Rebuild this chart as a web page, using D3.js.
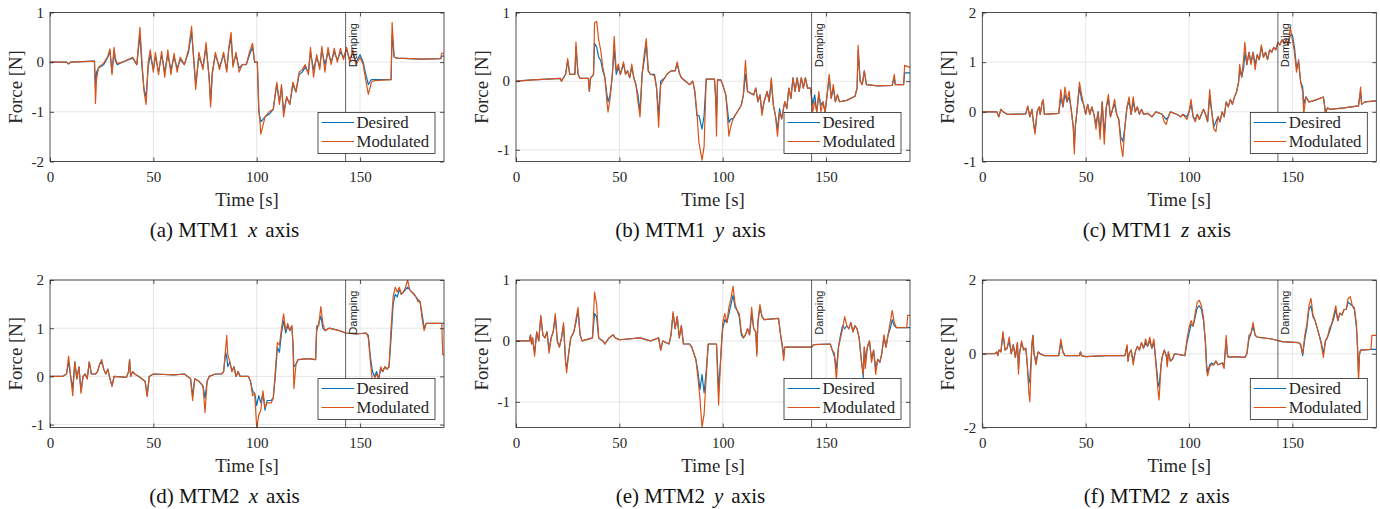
<!DOCTYPE html>
<html lang="en">
  <head>
    <meta charset="utf-8">
    <title>Desired vs modulated force</title>
    <script type="text/javascript" src="https://d3js.org/d3.v7.min.js"></script>
    <style type="text/css">
    body { margin: 0; background: #fff; }
    .tick text { font-family: "Liberation Serif", "Times New Roman", serif; font-size: 15px; fill: #262626; }
    .tick line { stroke: #262626; stroke-width: 0.8px; }
    .domain { display: none; }
    .grid line { stroke: #dfdfdf; stroke-width: 0.8px; }
    .ylabel, .xlabel { font-family: "Liberation Serif", serif; font-size: 18.8px; fill: #262626; }
    .caption { font-family: "Liberation Serif", serif; font-size: 21px; fill: #111; }
    .legend text { font-family: "Liberation Serif", serif; font-size: 16.8px; fill: #262626; }
    .damp { font-family: "Liberation Sans", Arial, sans-serif; font-size: 11px; fill: #262626; }
    </style>
  </head>
  <body>
    <svg width="1380" height="509" id="chart"></svg>

    <script type="text/javascript">

    // ---- data (time in s, force in N) ----
    const timeA = [0, 8, 9, 10, 21.5, 22, 22.5, 23.5, 26, 28,
      29, 30, 31, 31.5, 32.5, 35, 40, 42, 43.5, 44.5,
      45.5, 46.5, 47.5, 48.5, 50, 51, 52.5, 54, 55.5, 57,
      58.5, 60, 61.5, 63, 65, 67, 68.5, 69.5, 70.5, 72,
      74, 75.5, 77, 77.7, 78.5, 80, 82, 84, 85.5, 86.5,
      87.6, 88.5, 90, 91.5, 93, 95, 96.5, 98, 99, 100.3,
      101, 102, 104, 106, 108, 109.7, 111, 112, 113, 114.5,
      116, 117.5, 119, 120.5, 122, 123.5, 125, 126, 127.5, 129,
      130.5, 131.5, 133, 134.5, 136, 137.5, 139, 140.5, 142, 143.5,
      145, 146.5, 148, 150, 151.5, 152.5, 154, 155.5, 157, 165,
      165.5, 166.5, 168, 180, 189, 189.5, 190.6];
    const desiredA = [0, 0, -0.03, 0, 0.02, -0.5, -0.2, -0.12, -0.05, 0.1,
      0.22, -0.2, 0.25, 0.05, -0.05, 0, 0.08, -0.05, 0.55, -0.1,
      -0.55, -0.7, -0.1, 0.15, -0.15, 0.12, -0.2, 0.15, -0.2, 0.15,
      -0.15, 0.1, -0.12, 0.05, -0.05, 0.2, 0.6, 0.1, -0.45, 0.1,
      -0.1, 0.3, -0.3, -0.8, -0.2, 0.15, -0.1, 0.15, -0.15, 0.25,
      0.5, -0.05, 0.15, -0.12, -0.05, -0.05, 0.15, 0.3, 0, 0,
      -1.0, -1.2, -1.1, -1.05, -0.95, -0.45, -0.8, -0.5, -1.0, -0.7,
      -0.85, -0.45, -0.6, -0.25, -0.2, -0.1, -0.2, 0.2, -0.15, 0.1,
      -0.1, 0.25, -0.05, 0.2, 0, 0.2, 0.05, 0.2, 0.1, 0.25,
      0.05, 0.2, 0, 0.15, 0, -0.2, -0.45, -0.35, -0.35, -0.35,
      0.55, 0.1, 0.08, 0.06, 0.07, 0.12, 0.12];
    const modulatedA = [0, 0, -0.04, 0, 0.02, -0.83, -0.35, -0.1, -0.02, 0.12,
      0.27, -0.25, 0.3, 0.1, -0.03, 0, 0.1, -0.05, 0.7, 0,
      -0.6, -0.85, 0, 0.25, -0.2, 0.2, -0.25, 0.22, -0.3, 0.25,
      -0.25, 0.18, -0.2, 0.1, -0.05, 0.25, 0.72, 0.05, -0.55, 0.2,
      -0.15, 0.4, -0.35, -0.9, -0.25, 0.2, -0.15, 0.2, -0.2, 0.3,
      0.6, -0.1, 0.2, -0.2, -0.05, -0.04, 0.2, 0.38, 0, 0,
      -0.9, -1.45, -1.1, -1.0, -0.95, -0.4, -0.85, -0.45, -1.1, -0.7,
      -0.85, -0.4, -0.6, -0.2, -0.15, -0.05, -0.25, 0.3, -0.3, 0.15,
      -0.15, 0.32, -0.2, 0.3, -0.05, 0.28, 0, 0.28, 0.05, 0.3,
      0, 0.25, -0.05, 0.1, -0.05, -0.3, -0.65, -0.4, -0.37, -0.35,
      0.8, 0.1, 0.08, 0.06, 0.07, 0.18, 0.18];

    const timeB = [0, 8, 15, 21.5, 22, 24, 25, 26, 28.5, 29,
      30, 31, 35, 35.5, 36, 37.5, 38, 39, 40, 41,
      42, 43, 44, 44.5, 45.5, 46.5, 47.5, 48.5, 49.5, 50.5,
      52, 53, 54, 55, 56, 57, 58, 59, 60, 61,
      62, 63, 64, 65, 67, 68, 69, 70, 72, 73,
      75, 77, 78, 79, 80, 82, 84, 85.5, 86.5, 87.5,
      88.5, 90, 91, 92, 96, 96.5, 97, 97.5, 99, 100,
      101.5, 103, 104, 105, 107, 109, 110, 111, 112, 115,
      116, 117, 118, 119, 120, 121.5, 122.5, 123.5, 124.5, 125.5,
      126.5, 127.5, 128.5, 130, 131, 132, 133, 134, 135, 136,
      137, 138, 139, 140, 141, 142.5, 143.5, 144.5, 145.5, 146.5,
      147.5, 148.5, 149.5, 150.5, 151.5, 152.5, 153.5, 154.5, 155.5, 156.5,
      160, 164, 165, 165.5, 166.5, 167.5, 168.5, 169.5, 175, 182,
      183, 183.5, 187.5, 188, 190.6];
    const desiredB = [0, 0.02, 0.03, 0.04, 0, 0.1, 0.3, 0.1, 0.1, 0.5,
      0.1, 0.04, 0.04, -0.15, 0.04, 0.1, 0.55, 0.5, 0.35, 0.3,
      0.15, 0.05, -0.2, -0.3, -0.2, 0.05, 0.45, 0.1, 0.2, 0.1,
      0.25, 0.1, 0.15, 0.05, 0.2, 0.05, -0.05, -0.2, -0.45, 0.1,
      0.3, 0.55, 0.15, 0.1, 0.1, -0.1, -0.5, 0, 0.05, 0.1,
      0.15, 0.15, 0.25, 0.12, 0.05, 0, -0.05, 0, -0.15, -0.5,
      -0.5, -0.7, -0.5, 0.03, 0.03, -0.2, -0.5, 0.02, 0.02, -0.05,
      -0.2, -0.6, -0.55, -0.55, -0.45, -0.35, -0.2, 0.1, -0.15, -0.2,
      -0.1, -0.3, -0.2, -0.45, -0.3, -0.15, -0.3, 0, -0.35, -0.5,
      -0.7, -0.4, -0.55, -0.3, -0.4, -0.1, -0.25, 0.05, -0.15, 0.05,
      -0.15, 0.05, -0.1, 0.05, -0.1, -0.1, -0.35, -0.2, -0.45, -0.2,
      -0.35, -0.3, -0.45, -0.2, 0.05, -0.25, -0.1, -0.3, -0.2, -0.3,
      -0.28, -0.22, -0.1, 0.45, 0, -0.05, 0.15, -0.05, -0.07, -0.06,
      0.05, -0.05, -0.05, 0.12, 0.12];
    const modulatedB = [0, 0.02, 0.03, 0.04, 0, 0.1, 0.33, 0.1, 0.1, 0.57,
      0.1, 0.04, 0.04, -0.15, 0.04, 0.1, 0.85, 0.87, 0.6, 0.45,
      0.2, 0.05, -0.3, -0.45, -0.25, 0.05, 0.65, 0.15, 0.25, 0.1,
      0.28, 0.1, 0.15, 0.05, 0.25, 0.05, -0.05, -0.3, -0.52, 0.1,
      0.38, 0.62, 0.15, 0.1, 0.08, -0.1, -0.67, -0.05, 0.05, 0.1,
      0.15, 0.15, 0.28, 0.12, 0.05, 0, -0.05, 0, -0.15, -0.45,
      -0.9, -1.15, -0.95, 0.03, 0.03, -0.2, -0.8, 0.02, 0.02, -0.05,
      -0.2, -0.8, -0.65, -0.55, -0.45, -0.35, -0.2, 0.3, -0.15, -0.2,
      -0.1, -0.3, -0.2, -0.5, -0.3, -0.15, -0.3, 0.05, -0.35, -0.5,
      -0.8, -0.45, -0.55, -0.3, -0.4, -0.1, -0.25, 0.05, -0.15, 0.05,
      -0.15, 0.05, -0.1, 0.05, -0.1, -0.1, -0.45, -0.3, -0.45, -0.15,
      -0.45, -0.3, -0.45, -0.2, 0.1, -0.25, -0.05, -0.3, -0.2, -0.3,
      -0.28, -0.22, -0.1, 0.52, 0, -0.05, 0.15, -0.05, -0.07, -0.06,
      0.1, -0.05, -0.05, 0.23, 0.2];

    const timeC = [0, 7, 8, 9, 10, 12, 21, 22, 23, 24,
      25, 25.5, 26.5, 27.5, 28, 29, 29.5, 30, 37, 38,
      39, 40, 41, 42, 43, 44, 44.5, 45, 46, 47,
      48, 49, 50, 51, 52, 53, 54, 55, 56, 57,
      58, 59, 60, 61, 62, 63, 64, 65, 66, 67,
      68, 69, 70, 71, 72, 73, 74, 75, 76, 77,
      78, 80, 82, 84, 87, 88, 89, 90, 91, 94,
      96, 97, 99, 100, 101, 102, 103, 104, 105, 107,
      108, 109, 110, 111, 112, 113, 114, 115, 116, 117,
      118, 119, 120, 121, 122, 123, 124, 124.5, 125.5, 126.5,
      127, 128, 129, 130, 131, 132, 133, 134, 135, 136,
      137, 138, 139, 140, 141, 142, 143, 144, 145, 146,
      147, 148, 149, 150, 151, 152, 153, 154, 155, 155.5,
      156.5, 158, 160, 162, 165, 165.5, 166, 167, 168, 175,
      182, 183, 183.5, 185, 190.6];
    const desiredC = [0, 0, -0.1, 0.05, 0, -0.05, -0.04, 0.1, -0.1, 0.05,
      -0.3, -0.4, 0, 0.1, -0.05, 0.2, 0.22, -0.05, -0.03, 0.3,
      0.1, 0.35, 0.2, 0.3, 0.05, -0.3, -0.7, -0.3, 0.1, 0.5,
      0.25, 0.15, -0.05, 0.15, -0.05, 0.1, -0.05, -0.25, 0, -0.4,
      0.2, -0.45, 0.1, 0.25, -0.1, 0.05, 0.15, -0.05, -0.15, -0.5,
      -0.6, -0.3, 0.1, 0.2, -0.05, 0.2, 0, 0.1, -0.05, 0.05,
      -0.05, -0.03, -0.1, 0, -0.05, -0.1, -0.15, -0.1, 0, -0.05,
      -0.1, -0.05, -0.1, 0, 0.15, -0.1, -0.15, -0.05, -0.15, 0.05,
      -0.05, -0.2, 0.3, 0, -0.3, -0.2, -0.1, -0.2, 0, -0.1,
      0.2, 0.1, 0.25, 0.15, 0.3, 0.4, 0.6, 0.85, 0.7, 0.9,
      1.2, 0.95, 1.2, 1.0, 1.2, 0.95, 1.15, 1.05, 1.3, 1.1,
      1.2, 1.05, 1.25, 1.2, 1.3, 1.25, 1.4, 1.35, 1.45, 1.38,
      1.45, 1.35, 1.55, 1.55, 1.3, 0.9, 1.0, 0.6, 0.5, 0.15,
      0.3, 0.2, 0.22, 0.25, 0.3, 0.15, 0, 0.08, 0.05, 0.08,
      0.12, 0.4, 0.15, 0.2, 0.22];
    const modulatedC = [0, 0, -0.1, 0.05, 0, -0.05, -0.04, 0.12, -0.1, 0.05,
      -0.3, -0.45, 0, 0.1, -0.05, 0.2, 0.25, -0.05, -0.03, 0.45,
      0.1, 0.5, 0.2, 0.42, 0.05, -0.3, -0.85, -0.3, 0.1, 0.6,
      0.35, 0.15, -0.05, 0.15, -0.05, 0.1, -0.05, -0.35, 0, -0.55,
      0.2, -0.65, 0.1, 0.35, -0.1, 0.05, 0.25, -0.05, -0.15, -0.65,
      -0.9, -0.3, 0.1, 0.3, -0.05, 0.3, 0, 0.1, -0.05, 0.05,
      -0.05, -0.03, -0.1, 0, -0.05, -0.2, -0.25, -0.1, 0, -0.05,
      -0.1, -0.05, -0.15, 0, 0.25, -0.1, -0.2, -0.05, -0.15, 0.05,
      -0.05, -0.2, 0.45, 0, -0.35, -0.4, -0.1, -0.2, 0, -0.1,
      0.2, 0.1, 0.25, 0.15, 0.3, 0.4, 0.6, 0.95, 0.7, 1.1,
      1.4, 0.95, 1.2, 0.95, 1.2, 0.85, 1.15, 1.05, 1.35, 1.1,
      1.2, 1.05, 1.25, 1.2, 1.3, 1.25, 1.4, 1.35, 1.45, 1.38,
      1.45, 1.35, 1.7, 1.45, 1.2, 0.8, 1.05, 0.6, 0.4, -0.05,
      0.3, 0.2, 0.22, 0.25, 0.3, 0.15, -0.05, 0.08, 0.05, 0.08,
      0.12, 0.5, 0.15, 0.2, 0.22];

    const timeD = [0, 6, 8, 9, 10, 11, 12, 13, 14, 15,
      16, 17, 18, 19, 20, 22, 23, 24, 25, 26,
      27, 28, 29, 30, 31, 37, 38, 38.5, 39, 40,
      41, 43, 46, 47, 48, 50, 60, 65, 68, 69,
      70, 72, 74, 75, 76, 77, 80, 83, 84, 85,
      85.5, 86, 87, 88, 89, 90, 91, 92, 96, 97,
      98, 99, 100, 101, 102, 103, 104, 105, 107, 108,
      109, 110, 111, 112, 113, 114, 115, 116, 117, 117.5,
      118, 119, 120, 125, 128.5, 129, 130, 131, 132, 133,
      135, 140, 143, 148, 153, 154, 155, 156, 157, 158,
      159, 160, 161, 162, 163, 164, 165, 166, 167, 168,
      169, 170, 171, 172, 173, 174, 175, 176, 177, 178,
      179, 180, 181, 182, 189.5, 190, 190.6];
    const desiredD = [0, 0, 0.05, 0.3, 0, -0.25, 0.3, -0.05, 0.2, -0.3,
      0, 0.05, -0.05, 0.3, 0.05, 0.05, 0.1, 0.25, 0.3, 0.15,
      0.05, 0.15, -0.05, -0.2, 0, -0.02, 0.1, 0.35, 0, 0.1,
      0.05, 0, -0.1, -0.4, 0, 0.05, 0.03, 0.05, -0.05, -0.4,
      -0.05, -0.1, -0.2, -0.45, -0.1, 0, 0.05, 0.05, 0.1, 0.5,
      0.4, 0.2, 0.3, 0.1, 0.2, 0, 0.1, 0, 0, -0.1,
      -0.3, -0.35, -0.6, -0.4, -0.55, -0.35, -0.7, -0.5, -0.5, -0.45,
      0, 0.6, 0.5, 0.9, 1.15, 0.9, 1.05, 0.95, 1.05, 0.7,
      0.2, 0.25, 0.35, 0.37, 0.35, 0.95, 1.1, 1.25, 1.0, 0.95,
      1.0, 0.95, 0.9, 0.88, 0.9, 0.85, 0.4, 0.1, 0, 0.1,
      -0.05, 0.15, 0.1, 0.2, 0.15, 0.2, 0.8, 1.5, 1.7, 1.65,
      1.8, 1.7, 1.75, 1.8, 1.85, 1.8, 1.75, 1.7, 1.65, 1.6,
      1.55, 1.3, 1.0, 1.1, 1.1, 1.1, 1.1];
    const modulatedD = [0, 0, 0.05, 0.42, 0, -0.4, 0.3, -0.05, 0.2, -0.35,
      0, 0.05, -0.05, 0.3, 0.05, 0.05, 0.1, 0.25, 0.35, 0.15,
      0.05, 0.15, -0.05, -0.2, 0, -0.02, 0.1, 0.35, 0, 0.1,
      0.05, 0, -0.1, -0.42, 0, 0.05, 0.03, 0.05, -0.05, -0.5,
      -0.05, -0.1, -0.2, -0.75, -0.1, 0, 0.05, 0.05, 0.1, 0.6,
      0.85, 0.45, 0.3, 0.1, 0.2, 0, 0.1, 0, 0, -0.1,
      -0.4, -0.35, -1.06, -0.8, -0.7, -0.3, -0.65, -0.55, -0.55, -0.45,
      0.1, 0.7, 0.65, 1.0, 1.3, 0.95, 1.1, 0.95, 1.05, 0.7,
      -0.25, 0.25, 0.35, 0.37, 0.35, 1.05, 1.05, 1.45, 1.1, 0.95,
      1.0, 0.95, 0.9, 0.88, 0.9, 0.8, 0.3, -0.1, -0.05, 0.05,
      -0.05, 0.2, 0.1, 0.2, 0.15, 0.2, 1.0, 1.65, 1.85, 1.75,
      1.85, 1.7, 1.75, 1.85, 2.0, 1.8, 1.75, 1.72, 1.65, 1.55,
      1.55, 1.2, 0.95, 1.1, 1.1, 0.45, 0.45];

    const timeE = [0, 6.5, 7, 7.5, 8, 9, 10, 11, 12, 13,
      14, 15, 16, 17, 18, 19, 20, 21, 22, 23,
      24, 24.5, 25.5, 26.5, 28, 29, 30, 31, 32, 37,
      38, 39, 40, 42, 43, 45, 47, 48, 50, 60,
      65, 69, 70, 71, 74, 75, 76, 77, 78, 79,
      80, 81, 84, 85, 86, 87, 88, 89, 90, 91,
      92, 93, 97, 98, 99, 99.5, 100, 101, 102, 103,
      104, 105, 106, 107, 108, 109, 110, 111, 112, 113,
      114, 115, 116, 116.5, 117, 118, 119, 120, 127, 128,
      129, 129.5, 130, 143, 144, 152, 153, 154, 155, 156,
      157, 158, 159, 160, 161, 162, 163, 164, 165, 166,
      167, 168, 168.5, 169, 170, 171, 172, 173, 174, 175,
      176, 177, 178, 179, 180, 181, 182, 183, 184, 189,
      189.5, 190.6];
    const desiredE = [0, 0, 0.1, -0.05, 0.05, -0.2, 0.15, 0, 0.4, 0.1,
      0.05, 0.15, -0.15, 0.05, 0.15, 0.4, 0, -0.1, 0.05, 0.25,
      -0.35, -0.45, -0.2, 0.05, 0.15, 0.3, 0.5, 0.1, 0, 0.05,
      0.45, 0.4, 0.05, 0, -0.05, 0.05, 0.1, 0.05, 0.02, 0.05,
      0, 0.05, -0.15, 0, -0.05, 0.1, 0.45, 0.2, 0.4, 0.05,
      0.25, -0.05, -0.05, -0.1, -0.2, -0.3, -0.5, -0.8, -0.55, -0.85,
      -0.5, -0.05, -0.05, -0.8, -0.3, 0, 0.2, 0.35, 0.3, 0.45,
      0.6, 0.75, 0.55, 0.5, 0.4, 0.1, 0.05, 0.1, 0.2, 0.1,
      0.45, 0.2, 0.15, -0.2, 0.3, 0.55, 0.4, 0.35, 0.37, 0.1,
      -0.1, -0.25, -0.1, -0.1, -0.06, -0.05, -0.15, -0.25, -0.45, -0.1,
      0.1, 0.25, 0.2, 0.25, 0.2, 0.3, 0.15, 0.25, 0.2, 0.05,
      -0.3, -0.6, -0.1, -0.3, -0.1, 0, -0.3, -0.15, -0.45, -0.3,
      -0.35, -0.2, 0.05, -0.1, 0.1, 0.2, 0.35, 0.25, 0.22, 0.22,
      0.22, 0.22];
    const modulatedE = [0, 0, 0.1, -0.05, 0.05, -0.25, 0.15, 0, 0.42, 0.1,
      0.05, 0.15, -0.2, 0.05, 0.15, 0.45, 0, -0.1, 0.05, 0.3,
      -0.35, -0.52, -0.2, 0.05, 0.15, 0.35, 0.55, 0.1, 0, 0.05,
      0.8, 0.6, 0.05, 0, -0.05, 0.05, 0.1, 0.05, 0.02, 0.05,
      0, 0.05, -0.15, 0, -0.05, 0.1, 0.48, 0.2, 0.4, 0.05,
      0.25, -0.05, -0.05, -0.1, -0.2, -0.3, -0.6, -0.95, -1.42, -1.2,
      -0.6, -0.05, -0.05, -1.05, -0.3, 0, 0.3, 0.45, 0.3, 0.55,
      0.7, 0.9, 0.6, 0.5, 0.45, 0.15, 0.05, 0.1, 0.2, 0.1,
      0.55, 0.2, 0.15, -0.25, 0.3, 0.6, 0.4, 0.35, 0.37, 0.1,
      -0.15, -0.32, -0.1, -0.1, -0.06, -0.05, -0.15, -0.2, -0.65, -0.1,
      0.05, 0.2, 0.4, 0.25, 0.2, 0.3, 0.15, 0.25, 0.2, 0.05,
      -0.3, -0.55, -0.1, -0.45, -0.1, 0, -0.35, -0.15, -0.55, -0.3,
      -0.35, -0.2, 0.1, -0.1, 0.1, 0.3, 0.5, 0.3, 0.22, 0.22,
      0.42, 0.42];

    const timeF = [0, 6, 7, 7.5, 8, 9, 10, 11, 12, 13,
      14, 15, 16, 17, 17.5, 18, 19, 20, 21, 21.5,
      22, 22.5, 23, 24, 24.5, 25, 26, 27, 28, 30,
      37, 38, 39, 40, 47, 47.5, 48, 50, 60, 69,
      70, 70.5, 71, 72, 73, 74, 75, 76, 77, 78,
      79, 80, 81, 82, 83, 84, 85, 85.5, 86.5, 87,
      88, 89, 89.5, 90, 91, 92, 93, 98, 99, 100,
      101, 102, 103, 104, 105, 106, 107, 108, 108.5, 109,
      110, 111, 112, 113, 114, 116, 117, 118, 118.5, 119,
      122, 127, 128, 129, 130, 131, 132, 133, 140, 145,
      153, 154, 155, 156, 157, 158, 159, 160, 161, 162,
      163, 164, 165, 166, 167, 168, 169, 170, 171, 172,
      173, 174, 175, 176, 177, 178, 179, 180, 181, 181.5,
      182, 182.5, 183, 188, 188.5, 190.6];
    const desiredF = [0, 0, 0.05, -0.05, 0.1, 0.05, 0.55, 0.1, 0.15, 0.35,
      0, 0.25, -0.1, 0.3, -0.4, 0, 0.3, 0.1, 0.15, -0.1,
      -0.5, -0.8, -0.7, 0.2, 0.5, 0, -0.2, 0.05, 0, -0.05,
      -0.05, 0.3, 0.05, -0.05, -0.05, 0.05, -0.05, -0.08, -0.05, -0.05,
      0.2, -0.2, 0, 0.1, -0.2, 0.05, 0.2, 0.1, 0.3, 0.15,
      0.3, 0.2, 0.35, 0.15, 0.3, -0.2, -0.8, -0.9, -0.3, -0.1,
      0.1, -0.05, -0.3, 0.05, -0.2, -0.15, 0, -0.05, 0.3, 0.55,
      0.8, 0.75, 1.0, 1.25, 1.3, 1.2, 0.9, 0.3, -0.3, -0.5,
      -0.3, -0.25, -0.3, -0.2, -0.3, -0.25, -0.3, 0.4, 0, -0.1,
      -0.08, -0.1, 0, 0.4, 0.55, 0.75, 0.5, 0.45, 0.4, 0.33,
      0.3, 0.25, -0.05, 0.4, 0.7, 1.2, 1.3, 1.0, 0.9, 0.7,
      0.5, 0.3, 0, 0.35, 0.45, 0.6, 0.8, 0.95, 1.2, 0.9,
      1.1, 1.05, 1.2, 1.2, 1.4, 1.35, 1.3, 1.2, 0.7, 0.2,
      -0.5, 0, 0.1, 0.12, 0.12, 0.12];
    const modulatedF = [0, 0, 0.05, -0.05, 0.1, 0.05, 0.6, 0.1, 0.15, 0.45,
      0, 0.25, -0.1, 0.3, -0.55, 0, 0.35, 0.1, 0.15, -0.1,
      -0.5, -1.05, -1.3, 0.3, 0.5, 0, -0.3, 0.05, 0, -0.05,
      -0.05, 0.4, 0.05, -0.05, -0.05, 0.05, -0.05, -0.08, -0.05, -0.05,
      0.25, -0.2, 0, 0.1, -0.3, 0.05, 0.2, 0.1, 0.3, 0.15,
      0.4, 0.2, 0.45, 0.15, 0.4, -0.3, -1.0, -1.25, -0.3, -0.1,
      0.1, -0.05, -0.35, 0.05, -0.2, -0.15, 0, -0.05, 0.4, 0.7,
      0.9, 0.75, 1.1, 1.4, 1.45, 1.3, 1.0, 0.2, -0.45, -0.6,
      -0.35, -0.3, -0.3, -0.2, -0.3, -0.25, -0.4, 0.5, 0, -0.1,
      -0.08, -0.1, 0, 0.5, 0.55, 0.85, 0.5, 0.45, 0.4, 0.33,
      0.3, 0.25, 0, 0.5, 0.8, 1.3, 1.5, 1.05, 0.9, 0.7,
      0.5, 0.25, -0.1, 0.35, 0.45, 0.7, 0.8, 1.05, 1.3, 0.9,
      1.1, 1.05, 1.2, 1.2, 1.5, 1.55, 1.3, 1.25, 0.8, 0.2,
      -0.75, 0, 0.1, 0.12, 0.5, 0.5];

    const panelNames = ["(a) MTM1", "(b) MTM1", "(c) MTM1", "(d) MTM2", "(e) MTM2", "(f) MTM2"];
    const axisNames = ["x", "y", "z", "x", "y", "z"];
    const yDomains = [[-2, 1], [-1.17, 1], [-1, 2], [-1.06, 2], [-1.42, 1], [-2, 2]];
    const yTicks = [[-2, -1, 0, 1], [-1, 0, 1], [-1, 0, 1, 2], [-1, 0, 1, 2], [-1, 0, 1], [-2, 0, 2]];
    const xTicks = [0, 50, 100, 150];
    const seriesNames = ["Desired", "Modulated"];
    const dampingTime = 143;

    const times = [timeA, timeB, timeC, timeD, timeE, timeF];
    const desired = [desiredA, desiredB, desiredC, desiredD, desiredE, desiredF];
    const modulated = [modulatedA, modulatedB, modulatedC, modulatedD, modulatedE, modulatedF];

    // ---- layout ----
    const colLeft = [50, 516, 982.3];
    const rowTop = [12.5, 280];
    const rowBottom = [161.5, 427.5];
    const plotW = 394;
    const colors = ["#0072BD", "#D95319"];
    const tickLen = 4;
    const fmt = d => (d < 0 ? "-" + Math.abs(d) : String(d));

    const svg = d3.select("#chart");

    for (let i = 0; i < 6; i++) {
      const col = i % 3, row = Math.floor(i / 3);
      const left = colLeft[col];
      const top = rowTop[row];
      const bottom = rowBottom[row];
      const right = left + plotW;

      const xScale = d3.scaleLinear().domain([0, 190.6]).range([left, right]);
      const yScale = d3.scaleLinear().domain(yDomains[i]).range([bottom, top]);

      const g = svg.append("g");

      g.append("defs").append("clipPath")
          .attr("id", "clip" + i)
        .append("rect")
          .attr("x", left).attr("y", top)
          .attr("width", plotW).attr("height", bottom - top);

      // grid
      const grid = g.append("g").attr("class", "grid");
      grid.selectAll(".gx")
          .data(xTicks.filter(d => d > 0))
          .enter().append("line")
          .attr("x1", d => xScale(d)).attr("x2", d => xScale(d))
          .attr("y1", top).attr("y2", bottom);
      grid.selectAll(".gy")
          .data(yTicks[i])
          .enter().append("line")
          .attr("x1", left).attr("x2", right)
          .attr("y1", d => yScale(d)).attr("y2", d => yScale(d));

      // series
      const data = [desired[i], modulated[i]];
      const line = d3.line()
          .x((d, k) => xScale(times[i][k]))
          .y(d => yScale(d));

      g.append("g")
          .attr("clip-path", "url(#clip" + i + ")")
        .selectAll("path")
          .data(data)
          .enter().append("path")
          .attr("d", d => line(d))
          .attr("fill", "none")
          .attr("stroke", (d, k) => colors[k])
          .attr("stroke-width", 1.2)
          .attr("stroke-linejoin", "round");

      // damping marker
      g.append("line")
          .attr("x1", xScale(dampingTime)).attr("x2", xScale(dampingTime))
          .attr("y1", top).attr("y2", bottom)
          .attr("stroke", "#3a3a3a")
          .attr("stroke-width", 0.8);

      g.append("text")
          .attr("class", "damp")
          .attr("text-anchor", "end")
          .attr("transform", "translate(" + (xScale(dampingTime) + 11) + "," + (top + 10.6) + ") rotate(-90)")
          .text("Damping");

      // axes (ticks point inward, like the original)
      g.append("g")
          .attr("transform", "translate(0," + bottom + ")")
          .call(d3.axisBottom(xScale).tickValues(xTicks).tickSize(-tickLen).tickPadding(10).tickFormat(fmt));
      g.append("g")
          .attr("transform", "translate(0," + top + ")")
          .call(d3.axisTop(xScale).tickValues(xTicks).tickSize(-tickLen).tickFormat(""));
      g.append("g")
          .attr("transform", "translate(" + left + ",0)")
          .call(d3.axisLeft(yScale).tickValues(yTicks[i]).tickSize(-tickLen).tickPadding(6).tickFormat(fmt));
      g.append("g")
          .attr("transform", "translate(" + right + ",0)")
          .call(d3.axisRight(yScale).tickValues(yTicks[i]).tickSize(-tickLen).tickFormat(""));

      g.append("rect")
          .attr("x", left).attr("y", top)
          .attr("width", plotW).attr("height", bottom - top)
          .attr("fill", "none")
          .attr("stroke", "#262626")
          .attr("stroke-width", 0.8);

      // labels
      g.append("text")
          .attr("class", "ylabel")
          .attr("text-anchor", "middle")
          .attr("transform", "translate(" + (left - 35) + "," + ((top + bottom) / 2) + ") rotate(-90)")
          .attr("dy", "0.35em")
          .text("Force [N]");

      g.append("text")
          .attr("class", "xlabel")
          .attr("text-anchor", "middle")
          .attr("x", (left + right) / 2)
          .attr("y", bottom + 44)
          .text("Time [s]");

      const cap = g.append("text")
          .attr("class", "caption")
          .attr("text-anchor", "middle")
          .attr("x", left + 174.5)
          .attr("y", bottom + 75.5);
      cap.append("tspan").text(panelNames[i]);
      cap.append("tspan").attr("dx", 9).attr("font-style", "italic").text(axisNames[i]);
      cap.append("tspan").attr("dx", 8).text("axis");

      // legend
      const lg = g.append("g").attr("class", "legend")
          .attr("transform", "translate(" + (right - 126) + "," + (bottom - 49) + ")");
      lg.append("rect")
          .attr("width", 117).attr("height", 41)
          .attr("fill", "#fff")
          .attr("stroke", "#262626")
          .attr("stroke-width", 0.8);
      seriesNames.forEach((name, k) => {
        const yy = 10 + k * 19;
        lg.append("line")
            .attr("x1", 3.5).attr("x2", 36)
            .attr("y1", yy).attr("y2", yy)
            .attr("stroke", colors[k])
            .attr("stroke-width", 1.1);
        lg.append("text")
            .attr("x", 38.5).attr("y", yy)
            .attr("dy", "0.35em")
            .text(name);
      });
    }

    </script>
  </body>
</html>
